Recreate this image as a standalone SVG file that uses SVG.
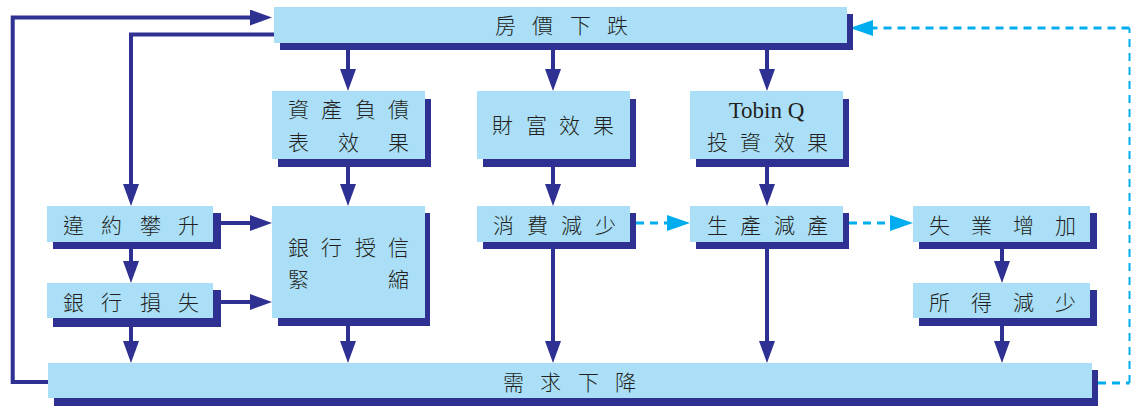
<svg xmlns="http://www.w3.org/2000/svg" width="1131" height="406" viewBox="0 0 1131 406">
<style>
.sh{fill:#2e3192}
.bx{fill:#abdff8}
.t{font-family:"Noto Sans CJK TC","Noto Sans CJK SC",sans-serif;font-size:21px;font-weight:300;fill:#231f20}
.tr{font-family:"Liberation Serif",serif;font-size:23px;fill:#231f20}
.c{fill:none;stroke:#2e3192;stroke-width:4}
.d{fill:none;stroke:#00aeef;stroke-width:3;stroke-dasharray:8 6}
</style>
<defs>
<marker id="ah" markerUnits="userSpaceOnUse" markerWidth="22" markerHeight="16" refX="2" refY="8" orient="auto" viewBox="0 0 22 16"><path d="M0,0 L22,8 L0,16 z" fill="#2e3192"/></marker>
<marker id="ahc" markerUnits="userSpaceOnUse" markerWidth="23" markerHeight="16" refX="2" refY="8" orient="auto" viewBox="0 0 23 16"><path d="M0,0 L23,8 L0,16 z" fill="#00aeef"/></marker>
</defs>
<g id="connectors">
<path class="c" d="M48,382 H12.7 V17.5 H252" marker-end="url(#ah)"/>
<path class="c" d="M274,34.5 H131 V186" marker-end="url(#ah)"/>
<path class="c" d="M348,50 V71" marker-end="url(#ah)"/>
<path class="c" d="M553,50 V71" marker-end="url(#ah)"/>
<path class="c" d="M767,50 V71" marker-end="url(#ah)"/>
<path class="c" d="M348,167 V186" marker-end="url(#ah)"/>
<path class="c" d="M553,167 V186" marker-end="url(#ah)"/>
<path class="c" d="M767,167 V186" marker-end="url(#ah)"/>
<path class="c" d="M221,223 H252" marker-end="url(#ah)"/>
<path class="c" d="M221,302 H252" marker-end="url(#ah)"/>
<path class="c" d="M131,249 V263" marker-end="url(#ah)"/>
<path class="c" d="M131,326 V343" marker-end="url(#ah)"/>
<path class="c" d="M348,326 V343" marker-end="url(#ah)"/>
<path class="c" d="M553,249 V343" marker-end="url(#ah)"/>
<path class="c" d="M767,249 V343" marker-end="url(#ah)"/>
<path class="c" d="M1002,249 V263" marker-end="url(#ah)"/>
<path class="c" d="M1002,326 V343" marker-end="url(#ah)"/>
<path class="d" d="M636,223 H669" marker-end="url(#ahc)"/>
<path class="d" d="M849,223 H892" marker-end="url(#ahc)"/>
<path class="d" d="M1098,383 H1129.5" />
<path fill="none" stroke="#00aeef" stroke-width="2" stroke-dasharray="8 6" d="M1129.5,383 V28"/>
<path class="d" d="M1129.5,28 H871" marker-end="url(#ahc)"/>
</g>
<g id="n-fangjia">
<rect class="sh" x="280" y="14" width="573" height="36"/>
<rect class="bx" x="274" y="7" width="573" height="36"/>
<text class="t" x="495 532 570 607" y="33">房價下跌</text>
</g>
<g id="n-zichan">
<rect class="sh" x="278" y="99" width="153" height="68"/>
<rect class="bx" x="272" y="91" width="153" height="68"/>
<text class="t" x="288 321 355 388" y="117">資產負債</text>
<text class="t" x="288 338 388" y="150">表效果</text>
</g>
<g id="n-caifu">
<rect class="sh" x="483" y="99" width="153" height="68"/>
<rect class="bx" x="477" y="91" width="153" height="68"/>
<text class="t" x="492 526 559 593" y="133">財富效果</text>
</g>
<g id="n-tobin">
<rect class="sh" x="696" y="99" width="153" height="68"/>
<rect class="bx" x="690" y="91" width="153" height="68"/>
<text class="tr" x="766.5" y="118" text-anchor="middle">Tobin Q</text>
<text class="t" x="707 740 774 807" y="150">投資效果</text>
</g>
<g id="n-weiyue">
<rect class="sh" x="53" y="213" width="168" height="36"/>
<rect class="bx" x="47" y="206" width="166" height="36"/>
<text class="t" x="63 101 140 178" y="233">違約攀升</text>
</g>
<g id="n-yinhangsunshi">
<rect class="sh" x="53" y="290" width="168" height="37"/>
<rect class="bx" x="47" y="283" width="166" height="35"/>
<text class="t" x="63 101 140 178" y="310">銀行損失</text>
</g>
<g id="n-shouxin">
<rect class="sh" x="278" y="213" width="152" height="113"/>
<rect class="bx" x="272" y="206" width="153" height="112"/>
<text class="t" x="288 321 355 388" y="255">銀行授信</text>
<text class="t" x="288 388" y="287">緊縮</text>
</g>
<g id="n-xiaofei">
<rect class="sh" x="483" y="213" width="153" height="36"/>
<rect class="bx" x="477" y="206" width="153" height="36"/>
<text class="t" x="493 527 561 595" y="233">消費減少</text>
</g>
<g id="n-shengchan">
<rect class="sh" x="696" y="213" width="153" height="36"/>
<rect class="bx" x="690" y="206" width="153" height="36"/>
<text class="t" x="707 740 774 807" y="233">生產減產</text>
</g>
<g id="n-shiye">
<rect class="sh" x="919" y="213" width="178" height="36"/>
<rect class="bx" x="913" y="206" width="177" height="36"/>
<text class="t" x="929 971 1013 1055" y="233">失業增加</text>
</g>
<g id="n-suode">
<rect class="sh" x="919" y="290" width="178" height="36"/>
<rect class="bx" x="913" y="283" width="177" height="35"/>
<text class="t" x="929 971 1013 1055" y="310">所得減少</text>
</g>
<g id="n-xuqiu">
<rect class="sh" x="54" y="370" width="1044" height="36"/>
<rect class="bx" x="48" y="363" width="1044" height="35"/>
<text class="t" x="503 540 578 615" y="390">需求下降</text>
</g>
</svg>
